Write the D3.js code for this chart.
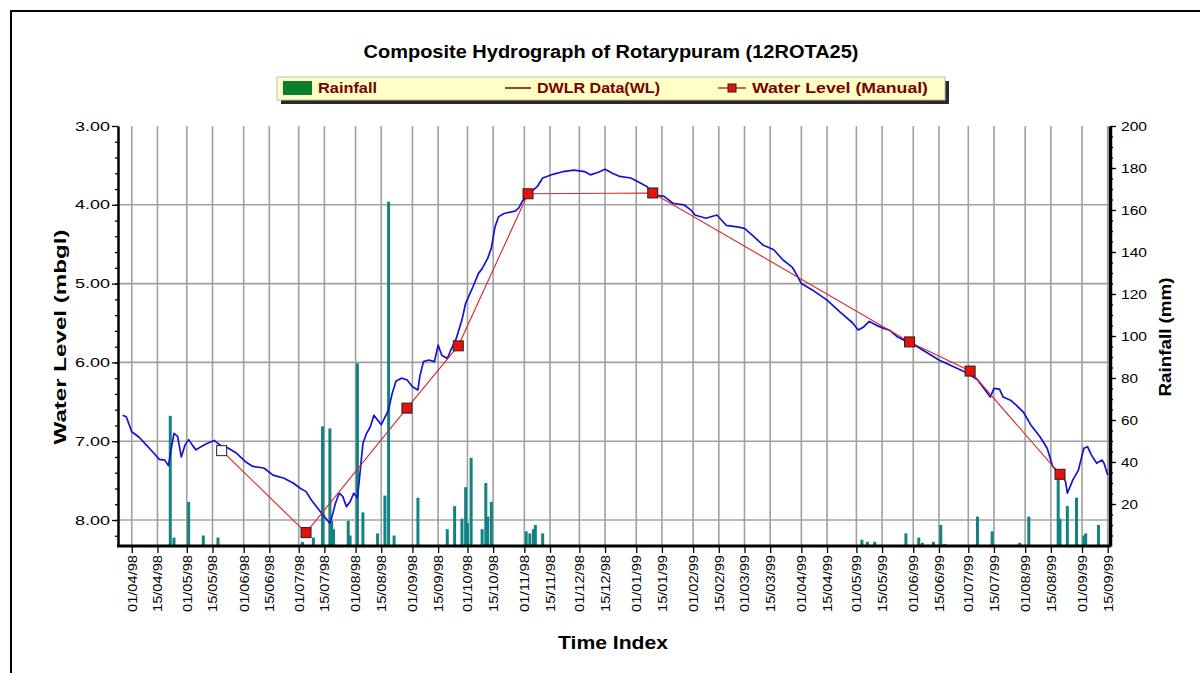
<!DOCTYPE html>
<html>
<head>
<meta charset="utf-8">
<script src="https://cdnjs.cloudflare.com/ajax/libs/d3/7.8.5/d3.min.js"></script>
<style>
body { margin: 0; background: #fff; }
text { font-family: "Liberation Sans", Arial, sans-serif; }
</style>
</head>
<body>
<script>
// ---- data ----
var rainDates = ["22/04/98","24/04/98","02/05/98","10/05/98","18/05/98","03/07/98","09/07/98","14/07/98","18/07/98","19/07/98",
	"20/07/98","28/07/98","29/07/98","02/08/98","05/08/98","13/08/98","17/08/98","19/08/98","22/08/98","04/09/98",
	"20/09/98","24/09/98","28/09/98","30/09/98","01/10/98","03/10/98","09/10/98","11/10/98","12/10/98","14/10/98",
	"02/11/98","04/11/98","06/11/98","07/11/98","11/11/98","04/05/99","07/05/99","11/05/99","28/05/99","04/06/99",
	"06/06/99","12/06/99","16/06/99","18/06/99","06/07/99","14/07/99","29/07/99","03/08/99","19/08/99","20/08/99",
	"24/08/99","29/08/99","02/09/99","03/09/99","10/09/99"];
var rainMM = [62,4,21,5,4,2,4,57,56,12,
	8,12,5,87,16,6,24,164,5,23,
	8,19,13,28,11,42,8,30,14,21,
	7,6,8,10,6,3,2,2,6,4,
	1.5,2,10,1,14,7,1.5,14,32,13,
	19,23,5,6,10];

var manualDates = ["20/05/98","05/07/98","29/08/98","26/09/98","03/11/98","10/01/99","30/05/99","02/07/99","20/08/99"];
var manualLevel = [7.12, 8.16, 6.58, 5.79, 3.86, 3.85, 5.74, 6.11, 7.42];

var dwlrSeries = [
	["27/03/98",6.67],["29/03/98",6.69],["01/04/98",6.88],["05/04/98",6.95],["09/04/98",7.05],["13/04/98",7.15],
	["16/04/98",7.23],["19/04/98",7.24],["21/04/98",7.31],["22/04/98",7.17],["24/04/98",6.90],["26/04/98",6.94],
	["28/04/98",7.20],["30/04/98",7.05],["02/05/98",6.98],["04/05/98",7.05],["06/05/98",7.11],["08/05/98",7.08],
	["12/05/98",7.03],["16/05/98",6.99],["18/05/98",7.03],["21/05/98",7.08],["23/05/98",7.08],["28/05/98",7.15],
	["02/06/98",7.26],["06/06/98",7.32],["12/06/98",7.34],["17/06/98",7.43],["23/06/98",7.47],["28/06/98",7.53],
	["02/07/98",7.60],["05/07/98",7.64],["08/07/98",7.75],["12/07/98",7.87],["15/07/98",7.96],["18/07/98",8.04],
	["19/07/98",7.97],["21/07/98",7.79],["23/07/98",7.66],["25/07/98",7.70],["27/07/98",7.83],["29/07/98",7.77],
	["31/07/98",7.66],["02/08/98",7.72],["03/08/98",7.50],["05/08/98",7.03],["07/08/98",6.90],["09/08/98",6.82],
	["11/08/98",6.67],["13/08/98",6.73],["15/08/98",6.79],["18/08/98",6.65],["19/08/98",6.60],["21/08/98",6.39],
	["23/08/98",6.24],["26/08/98",6.20],["29/08/98",6.22],["01/09/98",6.31],["04/09/98",6.35],["05/09/98",6.18],
	["07/09/98",5.99],["10/09/98",5.97],["13/09/98",5.99],["15/09/98",5.78],["17/09/98",5.91],["20/09/98",5.95],
	["22/09/98",5.84],["25/09/98",5.69],["28/09/98",5.46],["30/09/98",5.25],["04/10/98",5.04],["07/10/98",4.87],
	["09/10/98",4.81],["12/10/98",4.68],["14/10/98",4.55],["16/10/98",4.28],["18/10/98",4.15],["21/10/98",4.11],
	["27/10/98",4.08],["29/10/98",4.04],["31/10/98",3.95],["03/11/98",3.88],["04/11/98",3.85],["08/11/98",3.77],
	["11/11/98",3.66],["17/11/98",3.61],["22/11/98",3.58],["28/11/98",3.56],["04/12/98",3.58],["07/12/98",3.62],
	["11/12/98",3.59],["15/12/98",3.55],["19/12/98",3.60],["23/12/98",3.64],["29/12/98",3.66],["03/01/99",3.72],
	["07/01/99",3.77],["10/01/99",3.88],["16/01/99",3.89],["21/01/99",3.98],["27/01/99",4.00],["31/01/99",4.07],
	["02/02/99",4.13],["08/02/99",4.17],["14/02/99",4.13],["19/02/99",4.26],["25/02/99",4.28],["01/03/99",4.30],
	["06/03/99",4.40],["11/03/99",4.51],["17/03/99",4.57],["22/03/99",4.70],["27/03/99",4.79],["30/03/99",4.91],
	["01/04/99",5.00],["07/04/99",5.08],["15/04/99",5.21],["22/04/99",5.36],["29/04/99",5.50],["02/05/99",5.59],
	["05/05/99",5.55],["08/05/99",5.48],["12/05/99",5.53],["16/05/99",5.57],["19/05/99",5.59],["23/05/99",5.67],
	["28/05/99",5.73],["01/06/99",5.77],["15/06/99",5.97],["01/07/99",6.14],["06/07/99",6.22],["13/07/99",6.44],
	["15/07/99",6.33],["18/07/99",6.34],["20/07/99",6.44],["24/07/99",6.48],["27/07/99",6.54],["31/07/99",6.63],
	["04/08/99",6.79],["09/08/99",6.94],["13/08/99",7.09],["16/08/99",7.32],["20/08/99",7.41],["23/08/99",7.51],
	["24/08/99",7.66],["27/08/99",7.49],["30/08/99",7.37],["02/09/99",7.09],["04/09/99",7.07],["06/09/99",7.17],
	["09/09/99",7.28],["12/09/99",7.24],["13/09/99",7.28],["15/09/99",7.43]
];

var xTickLabels = ["01/04/98","15/04/98","01/05/98","15/05/98","01/06/98","15/06/98","01/07/98","15/07/98",
	"01/08/98","15/08/98","01/09/98","15/09/98","01/10/98","15/10/98","01/11/98","15/11/98","01/12/98","15/12/98",
	"01/01/99","15/01/99","01/02/99","15/02/99","01/03/99","15/03/99","01/04/99","15/04/99","01/05/99","15/05/99",
	"01/06/99","15/06/99","01/07/99","15/07/99","01/08/99","15/08/99","01/09/99","15/09/99"];
var levelTicks = [3, 4, 5, 6, 7, 8];
var rainTicks = [20, 40, 60, 80, 100, 120, 140, 160, 180, 200];

// ---- layout ----
var W = 1200, H = 673;
var plot = {left: 118, right: 1110, top: 126, bottom: 546};

var parse = d3.utcParse("%d/%m/%y");

var svg = d3.select("body").append("svg")
	.attr("width", W)
	.attr("height", H);

svg.append("rect").attr("width", W).attr("height", H).attr("fill", "#fff");

// outer frame (top and left edges visible)
svg.append("path")
	.attr("d", "M11," + H + "V11H" + W)
	.attr("fill", "none")
	.attr("stroke", "#000")
	.attr("stroke-width", 2);

var x = d3.scaleUtc()
	.domain([new Date(Date.UTC(1998, 2, 24, 12)), new Date(Date.UTC(1999, 8, 16, 6))])
	.range([plot.left, plot.right]);

var yLevel = d3.scaleLinear()
	.domain([3, 3 + (plot.bottom - plot.top) / 78.8])
	.range([plot.top, plot.bottom]);

var yRain = d3.scaleLinear()
	.domain([0, 200])
	.range([plot.bottom, plot.top]);

var tickDates = xTickLabels.map(parse);

// grid
var grid = svg.append("g").attr("stroke", "#a0a0a0").attr("stroke-width", 1.6);
grid.selectAll(".vg").data(tickDates).enter().append("line")
	.attr("x1", function(d) { return x(d); })
	.attr("x2", function(d) { return x(d); })
	.attr("y1", plot.top)
	.attr("y2", plot.bottom);
grid.selectAll(".hg").data(levelTicks.slice(1)).enter().append("line")
	.attr("x1", plot.left)
	.attr("x2", plot.right)
	.attr("y1", function(d) { return yLevel(d); })
	.attr("y2", function(d) { return yLevel(d); });

// rainfall bars
var rain = d3.zip(rainDates.map(parse), rainMM);
svg.append("g").selectAll("rect").data(rain).enter().append("rect")
	.attr("x", function(d) { return x(d[0]) - 1.5; })
	.attr("width", 3)
	.attr("y", function(d) { return yRain(d[1]); })
	.attr("height", function(d) { return plot.bottom - yRain(d[1]); })
	.attr("fill", "#138282");

// DWLR line
var dwlr = dwlrSeries.map(function(d) { return [parse(d[0]), d[1]]; });
svg.append("path")
	.datum(dwlr)
	.attr("fill", "none")
	.attr("stroke", "#1414d2")
	.attr("stroke-width", 1.7)
	.attr("stroke-linejoin", "round")
	.attr("d", d3.line()
		.x(function(d) { return x(d[0]); })
		.y(function(d) { return yLevel(d[1]); }));

// manual water level
var manual = d3.zip(manualDates.map(parse), manualLevel);
svg.append("path")
	.datum(manual)
	.attr("fill", "none")
	.attr("stroke", "#d42a2a")
	.attr("stroke-width", 1.1)
	.attr("d", d3.line()
		.x(function(d) { return x(d[0]); })
		.y(function(d) { return yLevel(d[1]); }));

svg.append("g").selectAll("rect").data(manual).enter().append("rect")
	.attr("x", function(d) { return x(d[0]) - 5; })
	.attr("y", function(d) { return yLevel(d[1]) - 5; })
	.attr("width", 10)
	.attr("height", 10)
	.attr("fill", function(d, i) { return i == 0 ? "#fff" : "#e8120c"; })
	.attr("stroke", "#222")
	.attr("stroke-width", 1);

// axes
var leftAxis = svg.append("g")
	.attr("transform", "translate(" + plot.left + ",0)")
	.call(d3.axisLeft(yLevel).tickValues(levelTicks).tickFormat(d3.format(".2f")).tickSize(6).tickSizeOuter(0));
svg.append("g")
	.attr("transform", "translate(" + plot.left + ",0)")
	.call(d3.axisLeft(yLevel).tickValues(d3.range(3.2, 8.3, 0.2)).tickFormat("").tickSize(3).tickSizeOuter(0))
	.select(".domain").remove();

var rightAxis = svg.append("g")
	.attr("transform", "translate(" + plot.right + ",0)")
	.call(d3.axisRight(yRain).tickValues(rainTicks).tickSize(6).tickSizeOuter(0));
svg.append("g")
	.attr("transform", "translate(" + plot.right + ",0)")
	.call(d3.axisRight(yRain).tickValues(d3.range(5, 200, 5)).tickFormat("").tickSize(3).tickSizeOuter(0))
	.select(".domain").remove();

var bottomAxis = svg.append("g")
	.attr("transform", "translate(0," + plot.bottom + ")")
	.call(d3.axisBottom(x).tickValues(tickDates)
		.tickFormat(function(d, i) { return xTickLabels[i]; })
		.tickSize(7).tickSizeOuter(0));

svg.selectAll(".tick line").attr("stroke", "#000").attr("stroke-width", 1.3);

leftAxis.select(".domain").attr("stroke-width", 2.5);
rightAxis.select(".domain").attr("stroke-width", 3.5);
bottomAxis.select(".domain").attr("stroke-width", 3)
	.attr("d", "M" + (plot.left - 1) + ",0H" + (plot.right + 1));

leftAxis.selectAll("text")
	.attr("font-size", 13)
	.attr("fill", "#000")
	.attr("x", -8)
	.attr("textLength", 35)
	.attr("lengthAdjust", "spacingAndGlyphs");
rightAxis.selectAll("text")
	.attr("font-size", 13)
	.attr("fill", "#000")
	.attr("x", 11)
	.attr("textLength", function(d) { return d >= 100 ? 26 : 17; })
	.attr("lengthAdjust", "spacingAndGlyphs");
bottomAxis.selectAll("text")
	.attr("font-size", 12.5)
	.attr("fill", "#000")
	.attr("transform", "rotate(-90)")
	.attr("text-anchor", "end")
	.attr("x", -9)
	.attr("y", 0)
	.attr("dy", "0.35em")
	.attr("textLength", 57)
	.attr("lengthAdjust", "spacingAndGlyphs");

// axis titles
svg.append("text")
	.attr("transform", "translate(66,337) rotate(-90)")
	.attr("text-anchor", "middle")
	.attr("font-size", 17)
	.attr("font-weight", "bold")
	.attr("textLength", 215)
	.attr("lengthAdjust", "spacingAndGlyphs")
	.text("Water Level (mbgl)");

svg.append("text")
	.attr("transform", "translate(1171,337) rotate(-90)")
	.attr("text-anchor", "middle")
	.attr("font-size", 17)
	.attr("font-weight", "bold")
	.attr("textLength", 119)
	.attr("lengthAdjust", "spacingAndGlyphs")
	.text("Rainfall (mm)");

svg.append("text")
	.attr("x", 613)
	.attr("y", 649)
	.attr("text-anchor", "middle")
	.attr("font-size", 18)
	.attr("font-weight", "bold")
	.attr("textLength", 110)
	.attr("lengthAdjust", "spacingAndGlyphs")
	.text("Time Index");

// title
svg.append("text")
	.attr("x", 611)
	.attr("y", 58)
	.attr("text-anchor", "middle")
	.attr("font-size", 18)
	.attr("font-weight", "bold")
	.attr("textLength", 495)
	.attr("lengthAdjust", "spacingAndGlyphs")
	.text("Composite Hydrograph of Rotarypuram (12ROTA25)");

// legend
var legend = svg.append("g");
legend.append("rect")
	.attr("x", 281).attr("y", 81).attr("width", 668).attr("height", 23)
	.attr("fill", "#2a2a2a");
legend.append("rect")
	.attr("x", 277).attr("y", 77).attr("width", 668).attr("height", 23)
	.attr("fill", "#ffffc6")
	.attr("stroke", "#bdbdbd")
	.attr("stroke-width", 1);

legend.append("rect")
	.attr("x", 283).attr("y", 81).attr("width", 29).attr("height", 14)
	.attr("fill", "#0c7f2c");
legend.append("line")
	.attr("x1", 505).attr("x2", 531).attr("y1", 88).attr("y2", 88)
	.attr("stroke", "#800000").attr("stroke-width", 1.5);
legend.append("line")
	.attr("x1", 718).attr("x2", 746).attr("y1", 88).attr("y2", 88)
	.attr("stroke", "#d42a2a").attr("stroke-width", 1.5);
legend.append("rect")
	.attr("x", 728).attr("y", 84).attr("width", 8).attr("height", 8)
	.attr("fill", "#e8120c").attr("stroke", "#222");

var legendItems = [
	{label: "Rainfall", x: 318, w: 59},
	{label: "DWLR Data(WL)", x: 537, w: 123},
	{label: "Water Level (Manual)", x: 752, w: 176}
];
legend.selectAll(".lt").data(legendItems).enter().append("text")
	.attr("x", function(d) { return d.x; })
	.attr("y", 93)
	.attr("font-size", 14)
	.attr("font-weight", "bold")
	.attr("fill", "#7a0000")
	.attr("textLength", function(d) { return d.w; })
	.attr("lengthAdjust", "spacingAndGlyphs")
	.text(function(d) { return d.label; });
</script>
</body>
</html>
